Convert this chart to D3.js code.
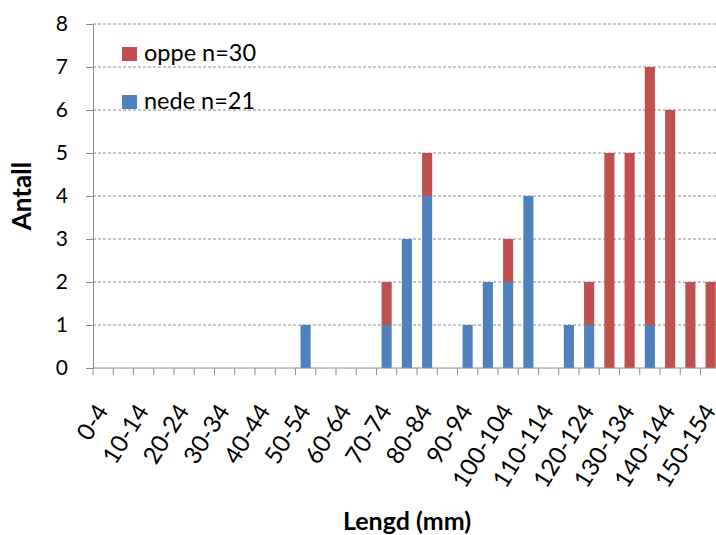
<!DOCTYPE html>
<html>
<head>
<meta charset="utf-8">
<script src="https://cdn.jsdelivr.net/npm/d3@7"></script>
<style>
	body { margin: 0; background: #fff; }
	svg { display: block; font-family: Lato, "Open Sans", sans-serif; }
</style>
</head>
<body>
<svg id="chart" width="716" height="535"></svg>
<script>
// length classes 0-4 ... 150-154
const categories = ["0-4","5-9","10-14","15-19","20-24","25-29","30-34","35-39","40-44","45-49",
	"50-54","55-59","60-64","65-69","70-74","75-79","80-84","85-89","90-94","95-99",
	"100-104","105-109","110-114","115-119","120-124","125-129","130-134","135-139","140-144","145-149","150-154"];
const nede = [0,0,0,0,0,0,0,0,0,0, 1,0,0,0,1,3,4,0,1,2, 2,4,0,1,1,0,0,1,0,0,0];
const oppe = [0,0,0,0,0,0,0,0,0,0, 0,0,0,0,1,0,1,0,0,0, 1,0,0,0,1,5,5,6,6,2,2];
const seriesNames = ["nede n=21","oppe n=30"];
const seriesColours = ["#4F81BD","#C0504D"];
const yTicks = [0,1,2,3,4,5,6,7,8];

const svg = d3.select("#chart");
const plotLeft = 93, plotTop = 24, plotBottom = 368, plotRight = 93 + 31 * 20.25;

let rows = categories.map((c, i) => ({cat: c, nede: nede[i], oppe: oppe[i]}));
let stacked = d3.stack().keys(["nede","oppe"])(rows);

let xScale = d3.scaleBand().domain(categories).range([plotLeft, plotRight]).paddingInner(0.5).paddingOuter(0.25);
let yScale = d3.scaleLinear().domain([0, 8]).range([plotBottom, plotTop]);

// grid
svg.append("g")
	.selectAll("line")
	.data(yTicks.slice(1))
	.enter()
	.append("line")
	.attr("x1", plotLeft).attr("x2", 716)
	.attr("y1", d => yScale(d)).attr("y2", d => yScale(d))
	.attr("stroke", "#8c8c8c")
	.attr("stroke-dasharray", "3,2");

// bars
svg.append("g")
	.selectAll("g")
	.data(stacked)
	.enter()
	.append("g")
	.attr("fill", (d, i) => seriesColours[i])
	.selectAll("rect")
	.data(d => d)
	.enter()
	.append("rect")
	.attr("x", d => xScale(d.data.cat))
	.attr("width", xScale.bandwidth())
	.attr("y", d => yScale(d[1]))
	.attr("height", d => yScale(d[0]) - yScale(d[1]));

// y axis
let yAxis = d3.axisLeft(yScale).tickValues(yTicks).tickSize(7).tickPadding(18);
let gy = svg.append("g").attr("transform", `translate(${plotLeft},0)`).call(yAxis);
gy.select(".domain").attr("stroke", "#8c8c8c");
gy.selectAll(".tick line").attr("stroke", "#8c8c8c");
gy.selectAll("text").attr("font-size", 21).attr("fill", "#000").attr("font-family", "Lato, sans-serif");

// x axis: tick marks at class boundaries
let step = xScale.step();
let boundaries = d3.range(categories.length + 1).map(i => plotLeft + i * step);
svg.append("line")
	.attr("x1", plotLeft).attr("x2", 716)
	.attr("y1", plotBottom).attr("y2", plotBottom)
	.attr("stroke", "#8c8c8c");
svg.append("g")
	.selectAll("line")
	.data(boundaries)
	.enter()
	.append("line")
	.attr("x1", d => d).attr("x2", d => d)
	.attr("y1", plotBottom).attr("y2", plotBottom + 7)
	.attr("stroke", "#8c8c8c");

svg.append("g")
	.selectAll("text")
	.data(categories.filter((c, i) => i % 2 == 0))
	.enter()
	.append("text")
	.attr("transform", d => `translate(${xScale(d) + xScale.bandwidth() / 2 + 6},${plotBottom + 43}) rotate(-58)`)
	.attr("text-anchor", "end")
	.attr("font-size", 24)
	.text(d => d);

// axis titles
svg.append("text")
	.attr("transform", "translate(31,196) rotate(-90)")
	.attr("text-anchor", "middle")
	.attr("font-weight", "bold")
	.attr("font-size", 26)
	.text("Antall");

svg.append("text")
	.attr("x", 407).attr("y", 530)
	.attr("text-anchor", "middle")
	.attr("font-weight", "bold")
	.attr("font-size", 25)
	.text("Lengd (mm)");

// legend
let legend = svg.append("g").attr("transform", "translate(122,47)");
[1, 0].forEach((s, i) => {
	legend.append("rect")
		.attr("x", 0).attr("y", i * 48)
		.attr("width", 15).attr("height", 14)
		.attr("fill", seriesColours[s]);
	legend.append("text")
		.attr("x", 22).attr("y", i * 48 + 14)
		.attr("font-size", 23.5)
		.text(seriesNames[s]);
});
</script>
</body>
</html>
